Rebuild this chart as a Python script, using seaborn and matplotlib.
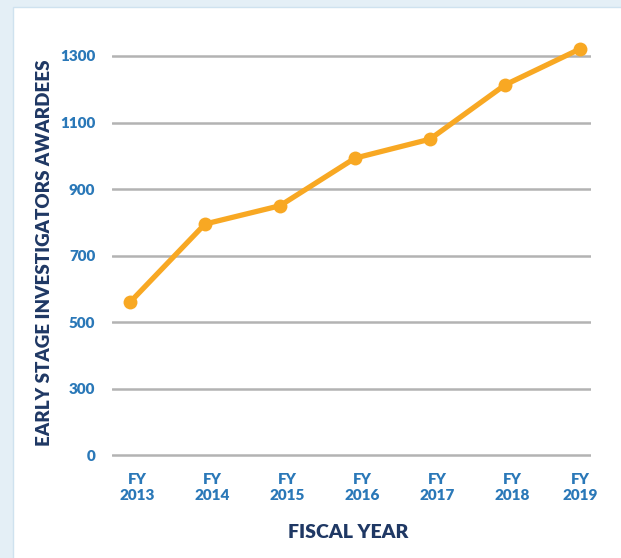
import matplotlib
matplotlib.use("Agg")
import matplotlib.pyplot as plt
import matplotlib.transforms as mtransforms
from matplotlib.patches import Rectangle
import seaborn as sns
import pandas as pd

# Early Stage Investigator awardees by fiscal year
years = ["FY\n2013", "FY\n2014", "FY\n2015", "FY\n2016", "FY\n2017", "FY\n2018", "FY\n2019"]
awardees = [560, 795, 850, 993, 1050, 1213, 1321]

# Value axis: gridlines every 200, bottom gridline labelled "0"
grid_values = [100, 300, 500, 700, 900, 1100, 1300]
grid_labels = ["0", "300", "500", "700", "900", "1100", "1300"]

df = pd.DataFrame({"year": years, "awardees": awardees})

sns.set_theme(style="white")
plt.rcParams["font.family"] = ["Lato", "DejaVu Sans"]

NAVY = "#1f3864"
BLUE = "#2a78b8"
ORANGE = "#f8a823"
FRAME = "#e4eff6"

fig = plt.figure(figsize=(6.21, 5.58), dpi=100)
fig.patch.set_facecolor(FRAME)

# white card with a thin pale-blue edge, kept behind the axes
card = Rectangle((13 / 621, -0.01), 1, 1.01 - 7 / 558, transform=fig.transFigure,
                 facecolor="white", edgecolor="#cfe2ef", linewidth=1.0, zorder=-10)
fig.patches.append(card)

ax = fig.add_axes([112 / 621, 96 / 558, 479 / 621, 427 / 558])
ax.set_zorder(1)
ax.set_facecolor("none")

x_pos = list(range(len(years)))
df["x"] = x_pos
sns.lineplot(data=df, x="x", y="awardees", ax=ax, color=ORANGE, linewidth=3.8,
             marker="o", markersize=10, markeredgewidth=0, zorder=3, clip_on=False)

ax.set_xlim(-0.24, 6.147)
ax.set_ylim(80, 1363)

ax.set_yticks(grid_values)
ax.set_yticklabels(grid_labels)
ax.set_xticks(x_pos)
ax.set_xticklabels(years)

ax.grid(axis="y", color="#b3b3b3", linewidth=1.8)
ax.grid(axis="x", visible=False)
for s in ax.spines.values():
    s.set_visible(False)

ax.tick_params(axis="both", length=0)
ax.tick_params(axis="y", pad=12, labelsize=11, labelcolor=BLUE)
ax.tick_params(axis="x", pad=8, labelsize=11, labelcolor=BLUE)
for lab in ax.get_yticklabels() + ax.get_xticklabels():
    lab.set_fontweight("heavy")
xlabels = ax.get_xticklabels()
for i, lab in enumerate(xlabels):
    lab.set_linespacing(1.25)
    shift = 7 if i < len(xlabels) - 1 else 0
    lab.set_transform(lab.get_transform() +
                      mtransforms.ScaledTranslation(shift / 100, 0, fig.dpi_scale_trans))

ax.set_xlabel("FISCAL YEAR", fontsize=14, fontweight="heavy", color=NAVY)
ax.set_ylabel("EARLY STAGE INVESTIGATORS AWARDEES", fontsize=13.5,
              fontweight="heavy", color=NAVY)
ax.xaxis.set_label_coords(0.493, -0.166)
ax.xaxis.label.set_va("center")
ax.yaxis.set_label_coords(-0.14, 0.49)
ax.yaxis.label.set_va("center")

fig.savefig("out.png", dpi=100, facecolor=fig.get_facecolor())
